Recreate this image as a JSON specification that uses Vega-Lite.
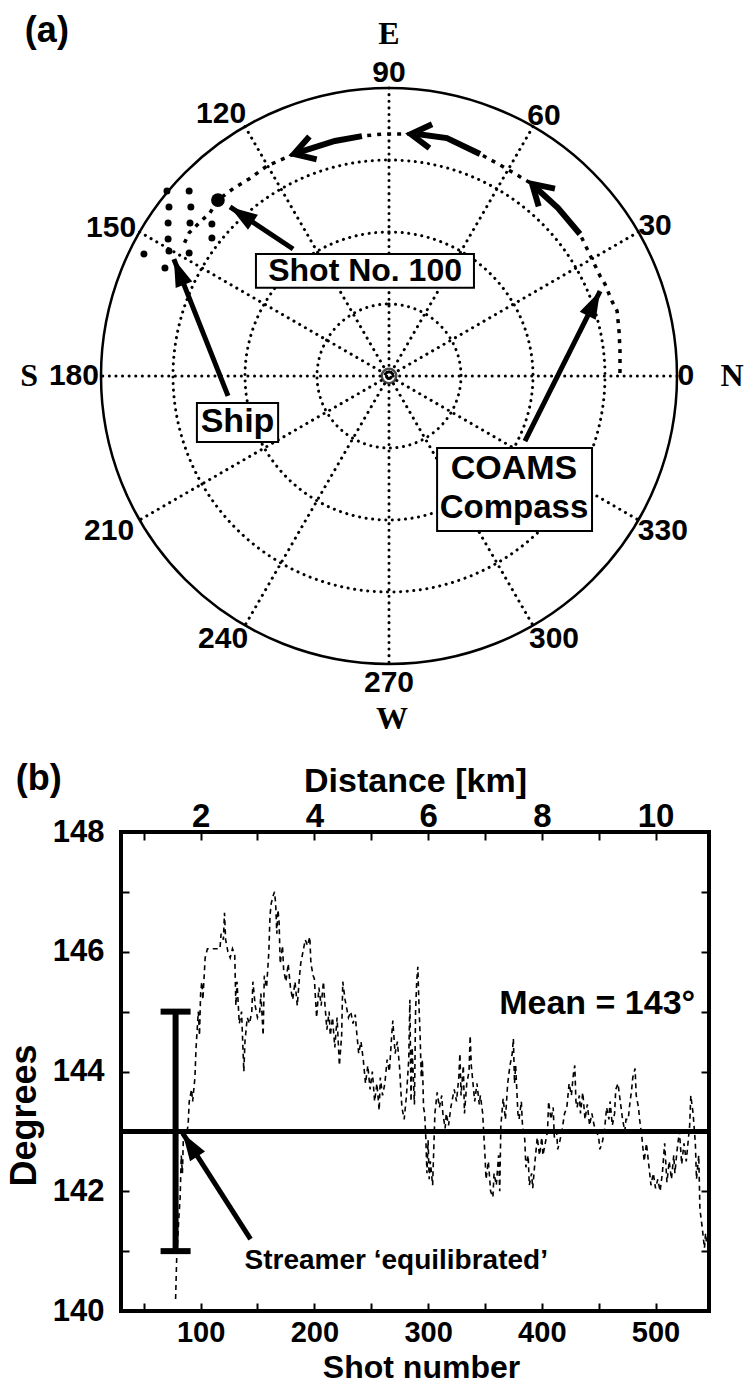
{
  "$schema": "https://vega.github.io/schema/vega-lite/v6.json",
  "background": "white",
  "padding": {"left": 4, "top": 12, "right": 0, "bottom": 0},
  "spacing": 168,
  "bounds": "flush",
  "config": {
    "view": {"stroke": null},
    "font": "Liberation Sans",
    "text": {"font": "Liberation Sans", "fontWeight": "bold", "color": "black"},
    "axis": {
      "domain": false, "grid": false, "tickColor": "black", "tickWidth": 2,
      "labelColor": "black", "titleColor": "black", "labelFont": "Liberation Sans",
      "titleFont": "Liberation Sans", "labelFontWeight": "bold", "titleFontWeight": "bold",
      "labelOverlap": false, "labelFlush": false
    }
  },
  "vconcat": [
    {
      "width": 536,
      "height": 576,
      "layer": [
        {
          "data": {"values": [{"r": 0.25}, {"r": 0.5}, {"r": 0.75}]},
          "mark": {"type": "arc", "theta": 0, "theta2": 6.2832, "filled": false, "stroke": "black", "strokeWidth": 3, "strokeDash": [0.1, 6.5], "strokeCap": "round"},
          "encoding": {"radius": {"field": "r", "type": "quantitative", "stack": null, "scale": {"domain": [0, 1], "range": [0, 288], "zero": true}}}
        },
        {
          "data": {"values": [
            {"x": 1, "y": 0, "x2": -1, "y2": 0},
            {"x": 0.866, "y": 0.5, "x2": -0.866, "y2": -0.5},
            {"x": 0.5, "y": 0.866, "x2": -0.5, "y2": -0.866},
            {"x": 0, "y": 1, "x2": 0, "y2": -1},
            {"x": -0.5, "y": 0.866, "x2": 0.5, "y2": -0.866},
            {"x": -0.866, "y": 0.5, "x2": 0.866, "y2": -0.5}
          ]},
          "mark": {"type": "rule", "color": "black", "strokeWidth": 3, "strokeDash": [0.1, 6.5], "strokeCap": "round"},
          "encoding": {
            "x": {"field": "x", "type": "quantitative", "scale": {"domain": [-0.9306, 0.9306], "nice": false, "zero": false}, "axis": null},
            "y": {"field": "y", "type": "quantitative", "scale": {"domain": [-1, 1], "nice": false, "zero": false}, "axis": null},
            "x2": {"field": "x2"},
            "y2": {"field": "y2"}
          }
        },
        {
          "data": {"values": [{"r": 1}]},
          "mark": {"type": "arc", "theta": 0, "theta2": 6.2832, "filled": false, "stroke": "black", "strokeWidth": 2.5},
          "encoding": {"radius": {"field": "r", "type": "quantitative", "stack": null, "scale": {"domain": [0, 1], "range": [0, 288], "zero": true}}}
        },
        {
          "data": {"values": [{"x": 0, "y": 0}]},
          "mark": {"type": "point", "shape": "circle", "size": 210, "filled": false, "stroke": "black", "strokeWidth": 2.5},
          "encoding": {
            "x": {"field": "x", "type": "quantitative", "scale": {"domain": [-0.9306, 0.9306], "nice": false, "zero": false}, "axis": null},
            "y": {"field": "y", "type": "quantitative", "scale": {"domain": [-1, 1], "nice": false, "zero": false}, "axis": null}
          }
        },
        {
          "data": {"values": [
            {"x": 0.802, "y": 0.010}, {"x": 0.802, "y": 0.087}, {"x": 0.799, "y": 0.153}, {"x": 0.792, "y": 0.226},
            {"x": 0.774, "y": 0.260}, {"x": 0.750, "y": 0.319}, {"x": 0.733, "y": 0.347}, {"x": 0.663, "y": 0.493},
            {"x": 0.587, "y": 0.583}, {"x": 0.497, "y": 0.667}, {"x": 0.392, "y": 0.729}, {"x": 0.316, "y": 0.771},
            {"x": 0.201, "y": 0.826}, {"x": 0.076, "y": 0.840}, {"x": -0.024, "y": 0.840}, {"x": -0.094, "y": 0.833},
            {"x": -0.188, "y": 0.816}, {"x": -0.330, "y": 0.771}, {"x": -0.424, "y": 0.729}, {"x": -0.486, "y": 0.684},
            {"x": -0.538, "y": 0.653}, {"x": -0.594, "y": 0.611}, {"x": -0.622, "y": 0.566}, {"x": -0.660, "y": 0.531},
            {"x": -0.694, "y": 0.497}, {"x": -0.712, "y": 0.458}
          ]},
          "mark": {"type": "line", "color": "black", "strokeWidth": 3.5, "strokeDash": [4, 6]},
          "encoding": {
            "x": {"field": "x", "type": "quantitative", "scale": {"domain": [-0.9306, 0.9306], "nice": false, "zero": false}, "axis": null},
            "y": {"field": "y", "type": "quantitative", "scale": {"domain": [-1, 1], "nice": false, "zero": false}, "axis": null},
            "order": {"value": null}
          }
        },
        {
          "data": {"values": [
            {"seg": "a", "i": 0, "x": 0.663, "y": 0.493}, {"seg": "a", "i": 1, "x": 0.587, "y": 0.583}, {"seg": "a", "i": 2, "x": 0.507, "y": 0.656},
            {"seg": "b", "i": 0, "x": 0.316, "y": 0.771}, {"seg": "b", "i": 1, "x": 0.201, "y": 0.826}, {"seg": "b", "i": 2, "x": 0.097, "y": 0.840},
            {"seg": "c", "i": 0, "x": -0.094, "y": 0.833}, {"seg": "c", "i": 1, "x": -0.188, "y": 0.816}, {"seg": "c", "i": 2, "x": -0.322, "y": 0.774}
          ]},
          "mark": {"type": "line", "color": "black", "strokeWidth": 6},
          "encoding": {
            "x": {"field": "x", "type": "quantitative", "scale": {"domain": [-0.9306, 0.9306], "nice": false, "zero": false}, "axis": null},
            "y": {"field": "y", "type": "quantitative", "scale": {"domain": [-1, 1], "nice": false, "zero": false}, "axis": null},
            "detail": {"field": "seg"},
            "order": {"field": "i"}
          }
        },
        {
          "data": {"values": [
            {"x": 0.497, "y": 0.667, "ang": -47.3},
            {"x": 0.076, "y": 0.840, "ang": -83.7},
            {"x": -0.330, "y": 0.771, "ang": -107.6}
          ]},
          "mark": {"type": "point", "shape": "M-0.6,1L0,0L0.6,1", "size": 1600, "filled": false, "stroke": "black", "strokeWidth": 6, "opacity": 1},
          "encoding": {
            "x": {"field": "x", "type": "quantitative", "scale": {"domain": [-0.9306, 0.9306], "nice": false, "zero": false}, "axis": null},
            "y": {"field": "y", "type": "quantitative", "scale": {"domain": [-1, 1], "nice": false, "zero": false}, "axis": null},
            "angle": {"field": "ang", "type": "quantitative", "scale": null}
          }
        },
        {
          "data": {"values": [
            {"x": -0.771, "y": 0.642}, {"x": -0.694, "y": 0.642}, {"x": -0.764, "y": 0.587}, {"x": -0.688, "y": 0.587},
            {"x": -0.767, "y": 0.531}, {"x": -0.691, "y": 0.531}, {"x": -0.615, "y": 0.528}, {"x": -0.767, "y": 0.476},
            {"x": -0.615, "y": 0.479}, {"x": -0.764, "y": 0.434}, {"x": -0.694, "y": 0.427}, {"x": -0.851, "y": 0.424},
            {"x": -0.778, "y": 0.375}
          ]},
          "mark": {"type": "point", "shape": "circle", "filled": true, "color": "black", "size": 49, "opacity": 1},
          "encoding": {
            "x": {"field": "x", "type": "quantitative", "scale": {"domain": [-0.9306, 0.9306], "nice": false, "zero": false}, "axis": null},
            "y": {"field": "y", "type": "quantitative", "scale": {"domain": [-1, 1], "nice": false, "zero": false}, "axis": null}
          }
        },
        {
          "data": {"values": [{"x": -0.594, "y": 0.611}]},
          "mark": {"type": "point", "shape": "circle", "filled": true, "color": "black", "size": 190, "opacity": 1},
          "encoding": {
            "x": {"field": "x", "type": "quantitative", "scale": {"domain": [-0.9306, 0.9306], "nice": false, "zero": false}, "axis": null},
            "y": {"field": "y", "type": "quantitative", "scale": {"domain": [-1, 1], "nice": false, "zero": false}, "axis": null}
          }
        },
        {
          "data": {"values": [
            {"x": -0.552, "y": 0.587, "tx": -0.333, "ty": 0.441, "ang": -56.3},
            {"x": -0.747, "y": 0.406, "tx": -0.559, "ty": -0.069, "ang": -21.5},
            {"x": 0.733, "y": 0.295, "tx": 0.472, "ty": -0.226, "ang": 26.6}
          ]},
          "layer": [
            {
              "mark": {"type": "rule", "color": "black", "strokeWidth": 5},
              "encoding": {
                "x": {"field": "tx", "type": "quantitative", "scale": {"domain": [-0.9306, 0.9306], "nice": false, "zero": false}, "axis": null},
                "y": {"field": "ty", "type": "quantitative", "scale": {"domain": [-1, 1], "nice": false, "zero": false}, "axis": null},
                "x2": {"field": "x"},
                "y2": {"field": "y"}
              }
            },
            {
              "mark": {"type": "point", "shape": "M0,0L0.42,1.3L-0.42,1.3Z", "size": 1800, "filled": true, "color": "black", "opacity": 1},
              "encoding": {
                "x": {"field": "x", "type": "quantitative", "scale": {"domain": [-0.9306, 0.9306], "nice": false, "zero": false}, "axis": null},
                "y": {"field": "y", "type": "quantitative", "scale": {"domain": [-1, 1], "nice": false, "zero": false}, "axis": null},
                "angle": {"field": "ang", "type": "quantitative", "scale": null}
              }
            }
          ]
        },
        {
          "data": {"values": [
            {"x": -0.462, "x2": 0.295, "y": 0.306, "y2": 0.424},
            {"x": -0.667, "x2": -0.385, "y": -0.229, "y2": -0.094},
            {"x": 0.167, "x2": 0.705, "y": -0.538, "y2": -0.25}
          ]},
          "mark": {"type": "rect", "fill": "white", "stroke": "black", "strokeWidth": 2},
          "encoding": {
            "x": {"field": "x", "type": "quantitative", "scale": {"domain": [-0.9306, 0.9306], "nice": false, "zero": false}, "axis": null},
            "y": {"field": "y", "type": "quantitative", "scale": {"domain": [-1, 1], "nice": false, "zero": false}, "axis": null},
            "x2": {"field": "x2"},
            "y2": {"field": "y2"}
          }
        },
        {
          "data": {"values": [
            {"t": "Shot No. 100", "x": -0.083, "y": 0.365, "fs": 32},
            {"t": "Ship", "x": -0.526, "y": -0.161, "fs": 34},
            {"t": "COAMS", "x": 0.434, "y": -0.323, "fs": 34},
            {"t": "Compass", "x": 0.434, "y": -0.458, "fs": 33}
          ]},
          "mark": {"type": "text", "align": "center", "baseline": "middle", "fontWeight": "bold"},
          "encoding": {
            "x": {"field": "x", "type": "quantitative", "scale": {"domain": [-0.9306, 0.9306], "nice": false, "zero": false}, "axis": null},
            "y": {"field": "y", "type": "quantitative", "scale": {"domain": [-1, 1], "nice": false, "zero": false}, "axis": null},
            "text": {"field": "t"},
            "size": {"field": "fs", "type": "quantitative", "scale": null}
          }
        },
        {
          "data": {"values": [
            {"t": "0", "x": 1.031, "y": 0}, {"t": "30", "x": 0.924, "y": 0.521}, {"t": "60", "x": 0.538, "y": 0.903},
            {"t": "90", "x": 0, "y": 1.052}, {"t": "120", "x": -0.583, "y": 0.910}, {"t": "150", "x": -0.965, "y": 0.515},
            {"t": "180", "x": -1.094, "y": 0}, {"t": "210", "x": -0.972, "y": -0.538}, {"t": "240", "x": -0.576, "y": -0.913},
            {"t": "270", "x": 0, "y": -1.066}, {"t": "300", "x": 0.573, "y": -0.913}, {"t": "330", "x": 0.951, "y": -0.538}
          ]},
          "mark": {"type": "text", "align": "center", "baseline": "middle", "fontSize": 30, "fontWeight": "bold"},
          "encoding": {
            "x": {"field": "x", "type": "quantitative", "scale": {"domain": [-0.9306, 0.9306], "nice": false, "zero": false}, "axis": null},
            "y": {"field": "y", "type": "quantitative", "scale": {"domain": [-1, 1], "nice": false, "zero": false}, "axis": null},
            "text": {"field": "t"}
          }
        },
        {
          "data": {"values": [
            {"t": "E", "x": 0, "y": 1.1875}, {"t": "N", "x": 1.191, "y": 0},
            {"t": "S", "x": -1.25, "y": 0}, {"t": "W", "x": 0.01, "y": -1.191}
          ]},
          "mark": {"type": "text", "align": "center", "baseline": "middle", "fontSize": 32, "fontWeight": "bold", "font": "Liberation Serif"},
          "encoding": {
            "x": {"field": "x", "type": "quantitative", "scale": {"domain": [-0.9306, 0.9306], "nice": false, "zero": false}, "axis": null},
            "y": {"field": "y", "type": "quantitative", "scale": {"domain": [-1, 1], "nice": false, "zero": false}, "axis": null},
            "text": {"field": "t"}
          }
        },
        {
          "data": {"values": [{"t": "(a)", "x": -1.188, "y": 1.198}]},
          "mark": {"type": "text", "align": "center", "baseline": "middle", "fontSize": 36, "fontWeight": "bold"},
          "encoding": {
            "x": {"field": "x", "type": "quantitative", "scale": {"domain": [-0.9306, 0.9306], "nice": false, "zero": false}, "axis": null},
            "y": {"field": "y", "type": "quantitative", "scale": {"domain": [-1, 1], "nice": false, "zero": false}, "axis": null},
            "text": {"field": "t"}
          }
        }
      ]
    },
    {
      "width": 588,
      "height": 479,
      "view": {"stroke": "black", "strokeWidth": 4},
      "layer": [
        {
          "data": {"values": [
            {"s":78,"d":140.2},{"s":79,"d":140.9},{"s":81,"d":141.6},{"s":82,"d":141.9},{"s":83,"d":142.6},{"s":84,"d":142.3},{"s":85,"d":143.0},{"s":87,"d":142.9},{"s":89,"d":143.1},{"s":90,"d":143.5},
            {"s":92,"d":143.7},{"s":93,"d":143.5},{"s":95,"d":143.9},{"s":96,"d":144.4},{"s":97,"d":144.7},{"s":98,"d":145.0},{"s":99,"d":144.6},{"s":100,"d":145.3},{"s":101,"d":145.5},{"s":102,"d":145.2},
            {"s":104,"d":145.9},{"s":106,"d":146.05},{"s":110,"d":146.05},{"s":114,"d":146.05},{"s":117,"d":146.05},{"s":118,"d":146.3},{"s":120,"d":146.2},{"s":121,"d":146.65},{"s":122,"d":146.2},{"s":124,"d":146.0},
            {"s":126,"d":145.9},{"s":128,"d":146.05},{"s":130,"d":145.95},{"s":131,"d":145.1},{"s":132,"d":145.5},{"s":134,"d":144.8},{"s":136,"d":145.0},{"s":138,"d":144.0},{"s":139,"d":144.5},{"s":141,"d":144.9},
            {"s":143,"d":144.8},{"s":145,"d":145.0},{"s":146,"d":145.5},{"s":148,"d":145.1},{"s":150,"d":144.9},{"s":152,"d":145.0},{"s":153,"d":145.3},{"s":155,"d":144.6},{"s":156,"d":145.6},{"s":158,"d":145.4},
            {"s":160,"d":146.0},{"s":161,"d":146.6},{"s":162,"d":146.8},{"s":164,"d":146.95},{"s":165,"d":147.0},{"s":166,"d":146.8},{"s":167,"d":146.3},{"s":168,"d":146.7},{"s":169,"d":146.5},{"s":170,"d":145.8},
            {"s":172,"d":146.1},{"s":173,"d":145.7},{"s":175,"d":145.5},{"s":177,"d":145.8},{"s":179,"d":145.4},{"s":181,"d":145.2},{"s":183,"d":145.5},{"s":185,"d":145.1},{"s":187,"d":145.6},{"s":188,"d":145.8},
            {"s":190,"d":146.0},{"s":192,"d":146.2},{"s":194,"d":146.1},{"s":196,"d":146.25},{"s":197,"d":145.8},{"s":199,"d":145.6},{"s":200,"d":145.55},{"s":202,"d":144.9},{"s":204,"d":145.4},{"s":206,"d":145.1},
            {"s":208,"d":145.5},{"s":209,"d":145.2},{"s":211,"d":144.7},{"s":213,"d":145.0},{"s":214,"d":144.6},{"s":216,"d":144.9},{"s":218,"d":144.4},{"s":220,"d":144.9},{"s":222,"d":144.1},{"s":224,"d":144.6},
            {"s":225,"d":145.5},{"s":227,"d":145.2},{"s":228,"d":145.1},{"s":230,"d":144.9},{"s":232,"d":145.0},{"s":234,"d":144.8},{"s":236,"d":144.95},{"s":237,"d":144.7},{"s":239,"d":144.3},{"s":241,"d":144.5},
            {"s":243,"d":144.2},{"s":245,"d":143.8},{"s":247,"d":144.1},{"s":249,"d":143.7},{"s":251,"d":144.0},{"s":253,"d":143.5},{"s":255,"d":143.8},{"s":257,"d":143.35},{"s":258,"d":143.9},{"s":260,"d":143.6},
            {"s":262,"d":143.8},{"s":264,"d":144.2},{"s":266,"d":144.0},{"s":268,"d":144.6},{"s":269,"d":144.85},{"s":271,"d":144.3},{"s":273,"d":144.5},{"s":275,"d":144.05},{"s":276,"d":143.7},{"s":277,"d":143.4},
            {"s":279,"d":143.2},{"s":281,"d":143.6},{"s":283,"d":144.2},{"s":284,"d":145.2},{"s":285,"d":143.5},{"s":286,"d":144.4},{"s":288,"d":143.45},{"s":289,"d":145.0},{"s":290,"d":145.5},{"s":291,"d":145.75},
            {"s":292,"d":145.1},{"s":293,"d":144.6},{"s":294,"d":143.9},{"s":295,"d":144.2},{"s":296,"d":143.4},{"s":297,"d":143.3},{"s":298,"d":142.9},{"s":299,"d":142.3},{"s":300,"d":142.85},{"s":301,"d":142.2},
            {"s":302,"d":142.5},{"s":304,"d":142.1},{"s":306,"d":143.3},{"s":308,"d":143.65},{"s":310,"d":143.4},{"s":312,"d":143.6},{"s":313,"d":143.3},{"s":315,"d":143.05},{"s":316,"d":143.3},{"s":318,"d":143.1},
            {"s":320,"d":143.4},{"s":323,"d":143.7},{"s":325,"d":143.5},{"s":327,"d":143.9},{"s":328,"d":144.3},{"s":329,"d":143.6},{"s":331,"d":144.1},{"s":332,"d":143.3},{"s":334,"d":143.8},{"s":336,"d":144.0},
            {"s":337,"d":144.6},{"s":338,"d":144.1},{"s":339,"d":143.9},{"s":341,"d":143.5},{"s":343,"d":143.8},{"s":345,"d":143.45},{"s":346,"d":143.6},{"s":348,"d":143.3},{"s":350,"d":142.6},{"s":351,"d":142.2},
            {"s":353,"d":142.5},{"s":355,"d":142.0},{"s":357,"d":141.9},{"s":358,"d":142.3},{"s":360,"d":142.1},{"s":362,"d":142.6},{"s":363,"d":142.0},{"s":364,"d":143.1},{"s":366,"d":143.55},{"s":368,"d":143.2},
            {"s":370,"d":143.8},{"s":372,"d":144.1},{"s":374,"d":144.3},{"s":375,"d":144.55},{"s":376,"d":143.8},{"s":377,"d":144.1},{"s":379,"d":143.3},{"s":380,"d":143.2},{"s":382,"d":143.5},{"s":383,"d":143.1},
            {"s":385,"d":142.87},{"s":386,"d":142.4},{"s":388,"d":142.6},{"s":389,"d":142.1},{"s":391,"d":142.3},{"s":392,"d":142.05},{"s":394,"d":142.5},{"s":396,"d":142.9},{"s":398,"d":142.6},{"s":400,"d":142.9},
            {"s":401,"d":142.6},{"s":403,"d":142.8},{"s":405,"d":143.0},{"s":406,"d":143.5},{"s":408,"d":143.2},{"s":410,"d":143.4},{"s":411,"d":142.9},{"s":413,"d":143.0},{"s":414,"d":142.7},{"s":416,"d":142.85},
            {"s":418,"d":143.05},{"s":420,"d":143.3},{"s":422,"d":143.4},{"s":424,"d":143.8},{"s":426,"d":143.6},{"s":428,"d":144.0},{"s":429,"d":144.1},{"s":430,"d":143.5},{"s":431,"d":143.4},{"s":433,"d":143.6},
            {"s":434,"d":143.3},{"s":436,"d":143.65},{"s":438,"d":143.2},{"s":440,"d":143.45},{"s":442,"d":143.1},{"s":444,"d":143.3},{"s":446,"d":143.1},{"s":448,"d":143.0},{"s":450,"d":142.9},{"s":451,"d":142.7},
            {"s":453,"d":142.8},{"s":455,"d":143.0},{"s":457,"d":143.4},{"s":459,"d":143.2},{"s":460,"d":143.5},{"s":462,"d":143.1},{"s":464,"d":143.3},{"s":465,"d":143.7},{"s":467,"d":143.8},{"s":469,"d":143.5},
            {"s":471,"d":143.2},{"s":473,"d":143.0},{"s":474,"d":143.2},{"s":476,"d":143.2},{"s":477,"d":143.4},{"s":479,"d":143.7},{"s":480,"d":143.9},{"s":482,"d":144.05},{"s":483,"d":143.6},{"s":485,"d":143.4},
            {"s":486,"d":143.2},{"s":488,"d":142.9},{"s":490,"d":142.5},{"s":492,"d":142.8},{"s":494,"d":142.45},{"s":496,"d":142.1},{"s":498,"d":142.3},{"s":500,"d":142.05},{"s":502,"d":142.2},{"s":504,"d":142.0},
            {"s":506,"d":142.3},{"s":508,"d":142.8},{"s":510,"d":142.15},{"s":512,"d":142.5},{"s":514,"d":142.2},{"s":516,"d":142.6},{"s":517,"d":142.3},{"s":519,"d":142.7},{"s":521,"d":143.0},{"s":523,"d":142.45},
            {"s":525,"d":142.8},{"s":527,"d":142.5},{"s":529,"d":142.9},{"s":530,"d":143.1},{"s":531,"d":143.6},{"s":533,"d":143.3},{"s":535,"d":142.8},{"s":536,"d":142.2},{"s":538,"d":142.6},{"s":539,"d":141.7},
            {"s":541,"d":141.4},{"s":543,"d":141.05},{"s":544,"d":141.3},{"s":545,"d":141.1}
          ]},
          "mark": {"type": "line", "color": "black", "strokeWidth": 1.6, "strokeDash": [5, 4]},
          "encoding": {
            "x": {
              "field": "s", "type": "quantitative",
              "scale": {"domain": [30, 547], "nice": false, "zero": false},
              "axis": {
                "orient": "bottom", "values": [50, 100, 150, 200, 250, 300, 350, 400, 450, 500],
                "labelExpr": "datum.value % 100 === 0 ? datum.label : ''",
                "tickSize": -8, "labelPadding": 15, "labelFontSize": 29,
                "title": "Shot number", "titleFontSize": 32, "titleBaseline": "alphabetic", "titleY": 66, "titleX": 300
              }
            },
            "y": {
              "field": "d", "type": "quantitative",
              "scale": {"domain": [140, 148], "nice": false, "zero": false},
              "axis": {
                "orient": "left", "values": [140, 141, 142, 143, 144, 145, 146, 147, 148],
                "labelExpr": "datum.value % 2 === 0 ? datum.label : ''",
                "tickSize": -8, "labelPadding": 25, "labelFontSize": 31,
                "title": "Degrees", "titleFontSize": 36, "titleAngle": -90, "titleX": -97, "titleY": 283,
                "titleAlign": "center", "titleBaseline": "middle"
              }
            }
          }
        },
        {
          "data": {"values": [{"km": 0.6}, {"km": 10.94}]},
          "mark": {"type": "point", "opacity": 0},
          "encoding": {
            "x": {
              "field": "km", "type": "quantitative",
              "scale": {"domain": [0.6, 10.94], "nice": false, "zero": false},
              "axis": {
                "orient": "top", "values": [1, 2, 3, 4, 5, 6, 7, 8, 9, 10],
                "labelExpr": "datum.value % 2 === 0 ? datum.label : ''",
                "tickSize": -8, "labelPadding": 14, "labelBaseline": "alphabetic", "labelFontSize": 33,
                "title": "Distance [km]", "titleFontSize": 34, "titleBaseline": "alphabetic", "titleY": -41, "titleX": 294
              }
            }
          }
        },
        {
          "data": {"values": [{"d": 140}, {"d": 148}]},
          "mark": {"type": "point", "opacity": 0},
          "encoding": {
            "y": {
              "field": "d", "type": "quantitative",
              "scale": {"domain": [140, 148], "nice": false, "zero": false},
              "axis": {"orient": "right", "values": [140, 141, 142, 143, 144, 145, 146, 147, 148], "labels": false, "tickSize": -8, "title": null}
            }
          }
        },
        {
          "data": {"values": [{"d": 143}]},
          "mark": {"type": "rule", "color": "black", "strokeWidth": 5},
          "encoding": {
            "y": {"field": "d", "type": "quantitative", "scale": {"domain": [140, 148], "nice": false, "zero": false}, "axis": null}
          }
        },
        {
          "data": {"values": [{"s": 78, "d": 141, "d2": 145}]},
          "mark": {"type": "rule", "color": "black", "strokeWidth": 6},
          "encoding": {
            "x": {"field": "s", "type": "quantitative", "scale": {"domain": [30, 547], "nice": false, "zero": false}, "axis": null},
            "y": {"field": "d", "type": "quantitative", "scale": {"domain": [140, 148], "nice": false, "zero": false}, "axis": null},
            "y2": {"field": "d2"}
          }
        },
        {
          "data": {"values": [{"s": 78, "d": 141}, {"s": 78, "d": 145}]},
          "mark": {"type": "tick", "orient": "horizontal", "color": "black", "size": 30, "thickness": 6, "opacity": 1},
          "encoding": {
            "x": {"field": "s", "type": "quantitative", "scale": {"domain": [30, 547], "nice": false, "zero": false}, "axis": null},
            "y": {"field": "d", "type": "quantitative", "scale": {"domain": [140, 148], "nice": false, "zero": false}, "axis": null}
          }
        },
        {
          "data": {"values": [{"s": 84.2, "d": 142.97, "ts": 143.9, "td": 141.2}]},
          "mark": {"type": "rule", "color": "black", "strokeWidth": 5},
          "encoding": {
            "x": {"field": "ts", "type": "quantitative", "scale": {"domain": [30, 547], "nice": false, "zero": false}, "axis": null},
            "y": {"field": "td", "type": "quantitative", "scale": {"domain": [140, 148], "nice": false, "zero": false}, "axis": null},
            "x2": {"field": "s"},
            "y2": {"field": "d"}
          }
        },
        {
          "data": {"values": [{"s": 84.2, "d": 142.97, "ang": -32.7}]},
          "mark": {"type": "point", "shape": "M0,0L0.42,1.3L-0.42,1.3Z", "size": 1800, "filled": true, "color": "black", "opacity": 1},
          "encoding": {
            "x": {"field": "s", "type": "quantitative", "scale": {"domain": [30, 547], "nice": false, "zero": false}, "axis": null},
            "y": {"field": "d", "type": "quantitative", "scale": {"domain": [140, 148], "nice": false, "zero": false}, "axis": null},
            "angle": {"field": "ang", "type": "quantitative", "scale": null}
          }
        },
        {
          "data": {"values": [
            {"t": "Mean = 143°", "s": 448.7, "d": 145.13, "fs": 34},
            {"t": "Streamer ‘equilibrated’", "s": 272, "d": 140.83, "fs": 28},
            {"t": "(b)", "s": -42.3, "d": 148.88, "fs": 36}
          ]},
          "mark": {"type": "text", "align": "center", "baseline": "middle", "fontWeight": "bold"},
          "encoding": {
            "x": {"field": "s", "type": "quantitative", "scale": {"domain": [30, 547], "nice": false, "zero": false}, "axis": null},
            "y": {"field": "d", "type": "quantitative", "scale": {"domain": [140, 148], "nice": false, "zero": false}, "axis": null},
            "text": {"field": "t"},
            "size": {"field": "fs", "type": "quantitative", "scale": null}
          }
        }
      ],
      "resolve": {"scale": {"x": "independent"}, "axis": {"y": "independent", "x": "independent"}}
    }
  ]
}
